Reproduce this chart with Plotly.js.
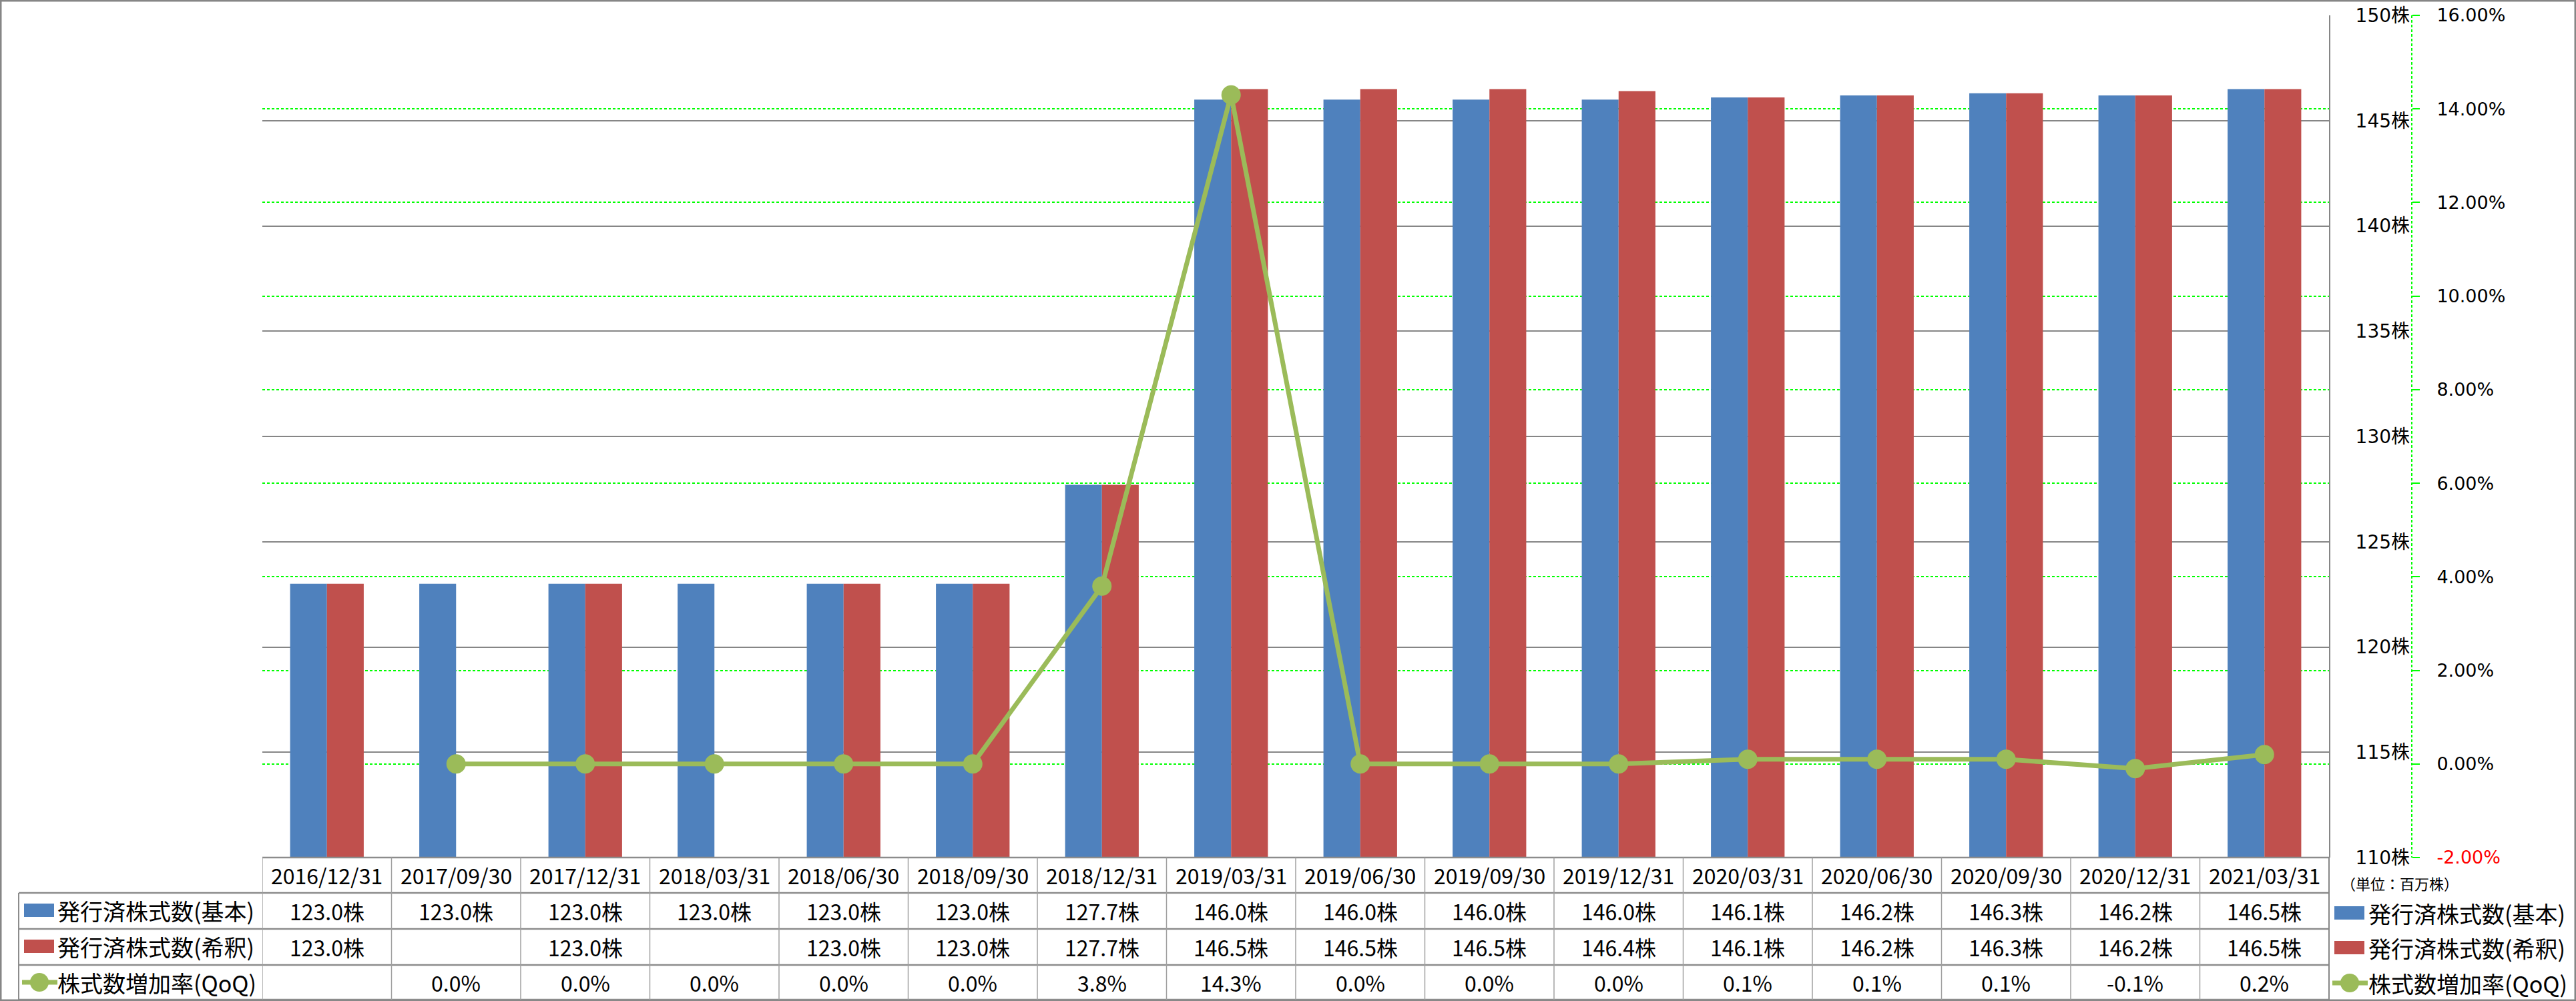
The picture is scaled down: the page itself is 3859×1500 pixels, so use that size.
<!DOCTYPE html>
<html>
<head>
<meta charset="utf-8">
<script src="https://cdn.plot.ly/plotly-3.0.1.min.js"></script>
<style>html,body{margin:0;padding:0;background:#fff;}#chart{width:3859px;height:1500px;}</style>
</head>
<body>
<div id="chart"></div>
<script>
// ---- data ----
const categories = ['2016/12/31','2017/09/30','2017/12/31','2018/03/31','2018/06/30','2018/09/30','2018/12/31','2019/03/31','2019/06/30','2019/09/30','2019/12/31','2020/03/31','2020/06/30','2020/09/30','2020/12/31','2021/03/31'];
const basicShares = [123.0,123.0,123.0,123.0,123.0,123.0,127.7,146.0,146.0,146.0,146.0,146.1,146.2,146.3,146.2,146.5];
const dilutedShares = [123.0,null,123.0,null,123.0,123.0,127.7,146.5,146.5,146.5,146.4,146.1,146.2,146.3,146.2,146.5];
const qoqGrowth = [null,0.0,0.0,0.0,0.0,0.0,3.8,14.3,0.0,0.0,0.0,0.1,0.1,0.1,-0.1,0.2];
const seriesNames = ['発行済株式数(基本)','発行済株式数(希釈)','株式数増加率(QoQ)'];
const pctTickVals = [-2,0,2,4,6,8,10,12,14,16];
const pctTickText = ['<span style="color:#ff0000">-2.00%</span>','0.00%','2.00%','4.00%','6.00%','8.00%','10.00%','12.00%','14.00%','16.00%'];
const unitLabel = '（単位：百万株）';

// ---- layout helpers ----
const W = 3859, H = 1500;
const px = x => x / W;
const py = y => 1 - y / H;
const BLUE = '#4f81bd', RED = '#c0504d', GREEN = '#9bbb59';
const GRID = '#868686', TLINE = '#8c8c8c';
const JP = '"Noto Sans CJK JP", "Noto Sans", sans-serif';
const TICKF = '"DejaVu Sans", "Noto Sans CJK JP", sans-serif';

const plotL = 393, plotR = 3489, plotT = 23, plotB = 1285;
const rowLines = [1338, 1392, 1446, 1498];
const rowCenters = [1311, 1365, 1419, 1472];

const traces = [
  {type:'bar', name:seriesNames[0], x:categories, y:basicShares, marker:{color:BLUE, line:{width:0}}, hoverinfo:'skip'},
  {type:'bar', name:seriesNames[1], x:categories, y:dilutedShares, marker:{color:RED, line:{width:0}}, hoverinfo:'skip'},
  {type:'scatter', mode:'lines+markers', name:seriesNames[2], x:categories, y:qoqGrowth, yaxis:'y2',
   line:{color:GREEN, width:7}, marker:{color:GREEN, size:29}, connectgaps:false, cliponaxis:false, hoverinfo:'skip'}
];

const shapes = [];
const annotations = [];

// outer border
shapes.push({type:'rect', xref:'paper', yref:'paper', x0:0, x1:1, y0:0, y1:1, line:{color:GRID, width:5}, layer:'above'});
// table horizontal lines
rowLines.forEach(y => shapes.push({type:'line', xref:'paper', yref:'paper', x0:px(28), x1:px(plotR), y0:py(y), y1:py(y), line:{color:TLINE, width:2.5}}));
// header top
shapes.push({type:'line', xref:'paper', yref:'paper', x0:px(plotL), x1:px(plotR), y0:py(plotB), y1:py(plotB), line:{color:TLINE, width:2.5}});
// vertical column lines
for (let k = 0; k <= categories.length; k++) {
  shapes.push({type:'line', xref:'x', yref:'paper', x0:k-0.5, x1:k-0.5, y0:py(plotB), y1:py(1498), line:{color:'#a0a0a0', width:1.5}});
}
// right edge extension of primary axis line
shapes.push({type:'line', xref:'paper', yref:'paper', x0:px(plotR), x1:px(plotR), y0:py(plotB), y1:py(1498), line:{color:GRID, width:2}});
// label column left edge
shapes.push({type:'line', xref:'paper', yref:'paper', x0:px(28), x1:px(28), y0:py(1338), y1:py(1498), line:{color:TLINE, width:2}});
// secondary axis dashed line
shapes.push({type:'line', xref:'paper', yref:'paper', x0:px(3613), x1:px(3613), y0:py(plotT), y1:py(plotB), line:{color:'#00ff00', width:2, dash:'4px,3px'}});

// header & table values
categories.forEach((c, i) => {
  annotations.push({xref:'x', yref:'paper', x:c, y:py(rowCenters[0]), text:c, showarrow:false, xanchor:'center', yanchor:'middle', font:{family:JP, size:32, color:'#000'}});
  if (basicShares[i] != null) annotations.push({xref:'x', yref:'paper', x:c, y:py(rowCenters[1]), text:basicShares[i].toFixed(1)+'株', showarrow:false, xanchor:'center', yanchor:'middle', font:{family:JP, size:32, color:'#000'}});
  if (dilutedShares[i] != null) annotations.push({xref:'x', yref:'paper', x:c, y:py(rowCenters[2]), text:dilutedShares[i].toFixed(1)+'株', showarrow:false, xanchor:'center', yanchor:'middle', font:{family:JP, size:32, color:'#000'}});
  if (qoqGrowth[i] != null) annotations.push({xref:'x', yref:'paper', x:c, y:py(rowCenters[3]), text:qoqGrowth[i].toFixed(1)+'%', showarrow:false, xanchor:'center', yanchor:'middle', font:{family:JP, size:32, color:'#000'}});
});

// legend keys (table left and right legend)
function legendBlock(keyX, textX, ys) {
  shapes.push({type:'rect', xref:'paper', yref:'paper', x0:px(keyX), x1:px(keyX+45), y0:py(ys[0]-10), y1:py(ys[0]+10), fillcolor:BLUE, line:{width:0}});
  shapes.push({type:'rect', xref:'paper', yref:'paper', x0:px(keyX), x1:px(keyX+45), y0:py(ys[1]-10), y1:py(ys[1]+10), fillcolor:RED, line:{width:0}});
  shapes.push({type:'line', xref:'paper', yref:'paper', x0:px(keyX-3), x1:px(keyX+50), y0:py(ys[2]), y1:py(ys[2]), line:{color:GREEN, width:7}});
  shapes.push({type:'circle', xref:'paper', yref:'paper', x0:px(keyX+23-14), x1:px(keyX+23+14), y0:py(ys[2]-14), y1:py(ys[2]+14), fillcolor:GREEN, line:{width:0}});
  seriesNames.forEach((n, j) => annotations.push({xref:'paper', yref:'paper', x:px(textX), y:py(ys[j]), text:n, showarrow:false, xanchor:'left', yanchor:'middle', font:{family:JP, size:34, color:'#000'}}));
}
legendBlock(36, 84, [1364, 1418, 1472]);
legendBlock(3497, 3546, [1368, 1420, 1473]);

annotations.push({xref:'paper', yref:'paper', x:px(3505), y:py(1323), text:unitLabel, showarrow:false, xanchor:'left', yanchor:'middle', font:{family:JP, size:22, color:'#000'}});

const layout = {
  width:W, height:H,
  margin:{l:0, r:0, t:0, b:0},
  paper_bgcolor:'#ffffff', plot_bgcolor:'#ffffff',
  showlegend:false,
  barmode:'group', bargap:0.43, bargroupgap:0,
  xaxis:{domain:[px(plotL), px(plotR)], type:'category', range:[-0.5, categories.length - 0.5], autorange:false,
         showticklabels:false, ticks:'', showgrid:false, zeroline:false, showline:false, fixedrange:true},
  yaxis:{domain:[py(plotB), py(plotT)], range:[110,150], dtick:5, tick0:110, side:'right', ticksuffix:'株',
         showline:true, linecolor:GRID, linewidth:2, mirror:false, showgrid:true, gridcolor:GRID, gridwidth:2, zeroline:false,
         ticks:'', ticklabelstandoff:32, tickfont:{family:TICKF, size:28, color:'#000'}, fixedrange:true},
  yaxis2:{overlaying:'y', anchor:'free', position:px(3613), side:'right', range:[-2,16], tickvals:pctTickVals, ticktext:pctTickText,
          showline:false, showgrid:true, gridcolor:'#00ff00', gridwidth:2, griddash:'4px,3px', zeroline:false,
          ticks:'outside', ticklen:11, tickwidth:2, tickcolor:'#00ff00', ticklabelstandoff:20,
          tickfont:{family:TICKF, size:27, color:'#000'}, fixedrange:true},
  shapes:shapes,
  annotations:annotations
};

Plotly.newPlot('chart', traces, layout, {staticPlot:true, displayModeBar:false});
</script>
</body>
</html>
